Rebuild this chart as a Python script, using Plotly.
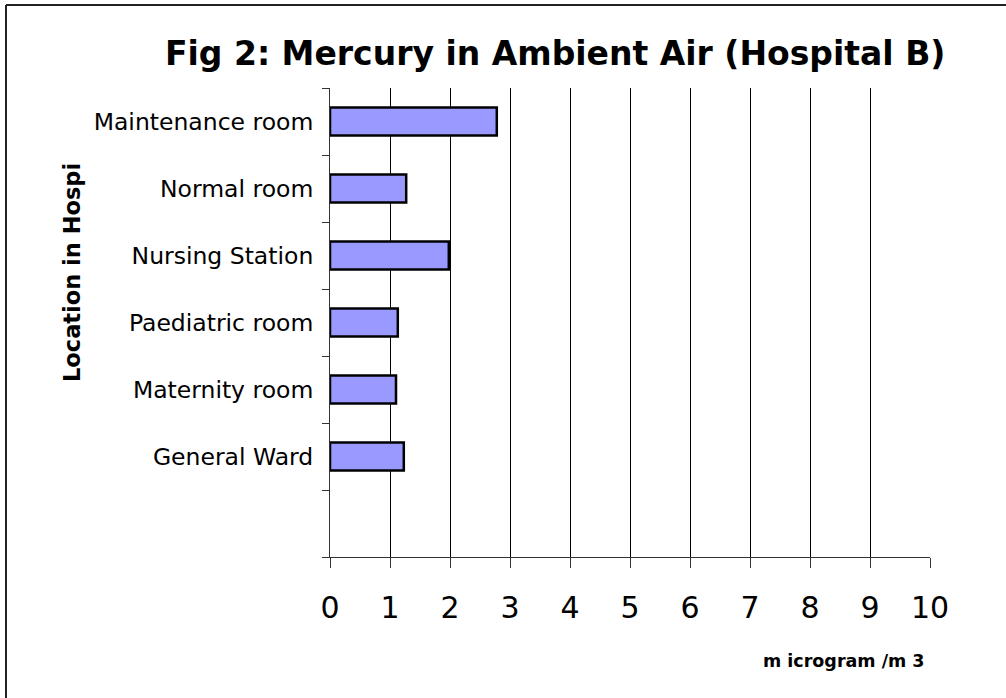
import plotly.graph_objects as go

# Data (bottom-to-top order; the bottom slot is empty in the reference)
categories = [" ", "General Ward", "Maternity room", "Paediatric room",
              "Nursing Station", "Normal room", "Maintenance room"]
values = [None, 1.23, 1.10, 1.13, 1.98, 1.27, 2.78]
x_ticks = list(range(0, 11))

title_text = "Fig 2: Mercury in Ambient Air (Hospital B)"
y_title = "Location in Hospi"
x_title = "m icrogram /m 3"

W, H = 1006, 698
L, R, T, B = 330, 76, 88, 141
pw, ph = W - L - R, H - T - B


def px(xp):
    return (xp - L) / pw


def py(yp):
    return (H - B - yp) / ph


FONT = "DejaVu Sans"

fig = go.Figure(go.Bar(
    y=categories, x=values, orientation="h", width=0.42,
    marker=dict(color="#9999FF", line=dict(color="black", width=2.5)),
))

fig.update_layout(
    width=W, height=H, margin=dict(l=L, r=R, t=T, b=B, autoexpand=False),
    paper_bgcolor="white", plot_bgcolor="white", showlegend=False,
    font=dict(family=FONT, color="black"),
    xaxis=dict(range=[0, 10], tickvals=x_ticks, ticktext=[str(v) for v in x_ticks],
               showgrid=True, gridcolor="black", gridwidth=1, zeroline=False,
               showline=True, linecolor="#333333", linewidth=1,
               ticks="outside", ticklen=10, tickcolor="#333333",
               tickfont=dict(size=30, family=FONT), ticklabelstandoff=14),
    yaxis=dict(type="category", categoryorder="array", categoryarray=categories,
               range=[-0.5, 6.5], showgrid=False, zeroline=False,
               showline=True, linecolor="#333333", linewidth=1,
               ticks="outside", ticklen=7, tickcolor="#333333", tickson="boundaries",
               tickfont=dict(size=23.5, family=FONT), ticklabelstandoff=11),
    annotations=[
        dict(text="<b>%s</b>" % title_text, xref="paper", yref="paper",
             x=px(555), y=py(53), xanchor="center", yanchor="middle",
             showarrow=False, font=dict(size=33, family=FONT)),
        dict(text="<b>%s</b>" % y_title, xref="paper", yref="paper",
             x=px(72), y=py(273), xanchor="center", yanchor="middle",
             textangle=-90, showarrow=False, font=dict(size=22.5, family=FONT)),
        dict(text="<b>%s</b>" % x_title, xref="paper", yref="paper",
             x=px(927), y=py(661), xanchor="right", yanchor="middle",
             showarrow=False, font=dict(size=17.5, family=FONT)),
    ],
    shapes=[
        dict(type="line", xref="paper", yref="paper", x0=px(6), x1=px(W), y0=py(5), y1=py(5),
             line=dict(color="#222222", width=2)),
        dict(type="line", xref="paper", yref="paper", x0=px(6), x1=px(6), y0=py(5), y1=py(H),
             line=dict(color="#222222", width=2)),
    ],
)

fig.write_html(
    "out.html",
    config={"displayModeBar": False},
    post_script="document.body.style.margin='0';document.body.style.overflow='hidden';",
)
